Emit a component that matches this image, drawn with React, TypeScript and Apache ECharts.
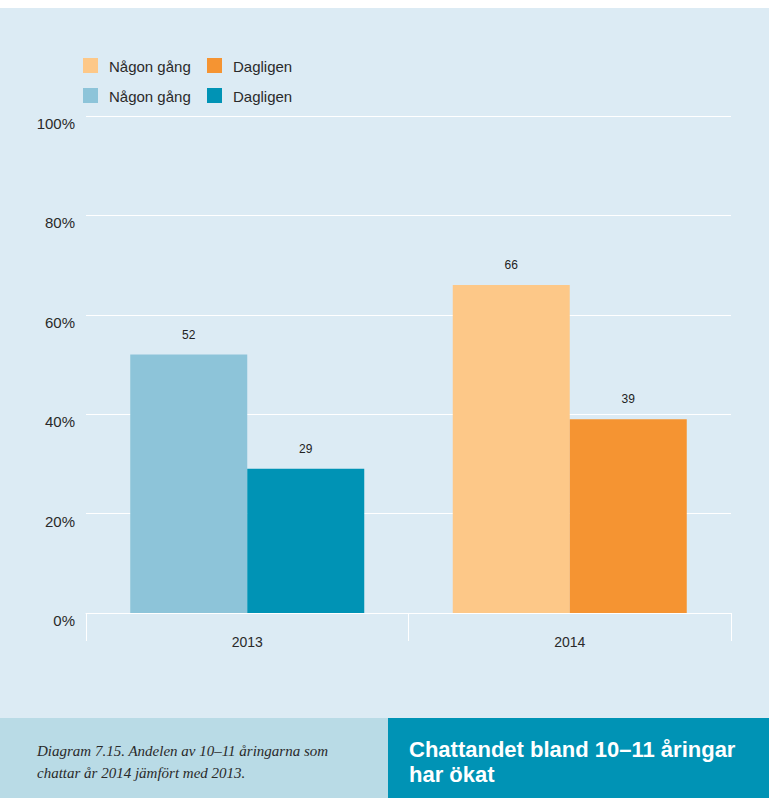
import React, { useEffect, useRef } from "react";
import * as echarts from "echarts";

const years = ["2013", "2014"];
const nagonGang = [52, 66];
const dagligen = [29, 39];
const nagonColors = ["#8dc4d9", "#fdc888"];
const dagligenColors = ["#0093b5", "#f59432"];
const yTicks = [0, 20, 40, 60, 80, 100];
const legendRows = [
  [{ name: "Någon gång", color: "#fdc888" }, { name: "Dagligen", color: "#f59432" }],
  [{ name: "Någon gång", color: "#8dc4d9" }, { name: "Dagligen", color: "#0093b5" }],
];
const caption = "Diagram 7.15. Andelen av 10–11 åringarna som\nchattar år 2014 jämfört med 2013.";
const headline = "Chattandet bland 10–11 åringar\nhar ökat";

const FONT = "'Liberation Sans', Arial, sans-serif";

export default function App() {
  const ref = useRef<HTMLDivElement>(null);
  useEffect(() => {
    document.body.style.margin = "0";
    const chart = echarts.init(ref.current!, null, { renderer: "svg" });
    const legendGraphics: any[] = [];
    legendRows.forEach((row, r) => {
      row.forEach((item, c) => {
        const x = 83 + c * 124;
        const y = 50 + r * 30;
        legendGraphics.push({
          type: "rect",
          shape: { x, y, width: 15, height: 15 },
          style: { fill: item.color },
        });
        legendGraphics.push({
          type: "text",
          x: x + 26,
          y: y + 8,
          style: {
            text: item.name,
            font: `15px ${FONT}`,
            fill: "#2a2a2a",
            verticalAlign: "middle",
          },
        });
      });
    });
    chart.setOption({
      animation: false,
      backgroundColor: "#dcebf4",
      grid: { left: 86, right: 38, top: 108, bottom: 185 },
      xAxis: {
        type: "category",
        data: years,
        boundaryGap: true,
        axisLine: { show: true, lineStyle: { color: "#ffffff", width: 1 } },
        axisTick: { show: true, length: 28, lineStyle: { color: "#ffffff", width: 1 } },
        axisLabel: { color: "#2a2a2a", fontSize: 14, fontFamily: FONT, margin: 22 },
      },
      yAxis: {
        type: "value",
        min: 0,
        max: 100,
        interval: 20,
        axisLine: { show: false },
        axisTick: { show: false },
        splitLine: { lineStyle: { color: "#ffffff", width: 1 } },
        axisLabel: {
          color: "#2a2a2a",
          fontSize: 15,
          fontFamily: FONT,
          margin: 11,
          verticalAlign: "top",
          formatter: (v: number) => (yTicks.includes(v) ? `${v}%` : ""),
        },
      },
      series: [
        {
          type: "bar",
          name: "Någon gång",
          barWidth: 117,
          barGap: "0%",
          data: nagonGang.map((v, i) => ({ value: v, itemStyle: { color: nagonColors[i] } })),
          label: { show: true, position: "top", distance: 14, color: "#222", fontSize: 12, fontFamily: FONT },
        },
        {
          type: "bar",
          name: "Dagligen",
          barWidth: 117,
          barGap: "0%",
          data: dagligen.map((v, i) => ({ value: v, itemStyle: { color: dagligenColors[i] } })),
          label: { show: true, position: "top", distance: 14, color: "#222", fontSize: 12, fontFamily: FONT },
        },
      ],
      graphic: [
        ...legendGraphics,
        { type: "rect", shape: { x: 0, y: 710, width: 388, height: 80 }, style: { fill: "#b9dbe6" } },
        { type: "rect", shape: { x: 388, y: 710, width: 381, height: 80 }, style: { fill: "#0093b5" } },
        {
          type: "text",
          x: 37,
          y: 732,
          style: {
            text: caption,
            font: `italic 15px 'Liberation Serif', 'DejaVu Serif', serif`,
            lineHeight: 22,
            fill: "#2a2a2a",
          },
        },
        {
          type: "text",
          x: 409,
          y: 729,
          style: {
            text: headline,
            font: `bold 22px ${FONT}`,
            lineHeight: 25,
            fill: "#ffffff",
          },
        },
      ],
    });
    return () => chart.dispose();
  }, []);
  return (
    <div
      ref={ref}
      style={{ position: "absolute", left: 0, top: 8, width: 769, height: 790 }}
    />
  );
}
